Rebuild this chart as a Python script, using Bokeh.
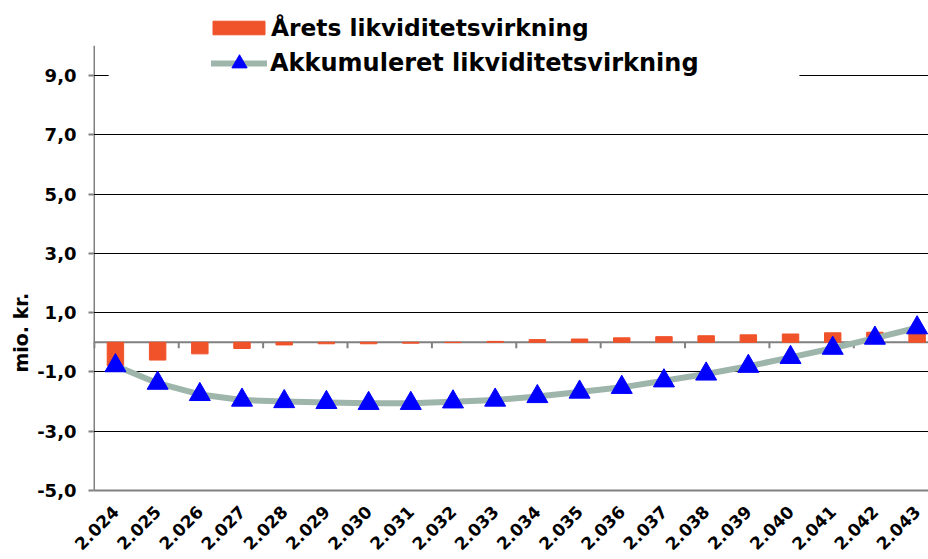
import math
from bokeh.plotting import figure
from bokeh.models import (FixedTicker, Range1d, Legend, LegendItem, BoxAnnotation,
                          Span, Title, ColumnDataSource)
from bokeh.embed import file_html
from bokeh.resources import INLINE

# ---- data ----
years = ["2.024", "2.025", "2.026", "2.027", "2.028", "2.029", "2.030", "2.031",
         "2.032", "2.033", "2.034", "2.035", "2.036", "2.037", "2.038", "2.039",
         "2.040", "2.041", "2.042", "2.043"]
annual = [-0.79, -0.60, -0.39, -0.21, -0.09, -0.05, -0.05, -0.03, -0.01, 0.03,
          0.09, 0.11, 0.15, 0.19, 0.22, 0.25, 0.28, 0.32, 0.34, 0.35]
cumulative = [-0.79, -1.38, -1.76, -1.95, -2.00, -2.03, -2.06, -2.06, -2.01, -1.95,
              -1.83, -1.68, -1.52, -1.30, -1.07, -0.81, -0.51, -0.20, 0.14, 0.49]
y_ticks = [-5, -3, -1, 1, 3, 5, 7, 9]
y_labels = ["-5,0", "-3,0", "-1,0", "1,0", "3,0", "5,0", "7,0", "9,0"]
y_axis_min, y_axis_max = -5, 10
bar_label = "Årets likviditetsvirkning"
line_label = "Akkumuleret likviditetsvirkning"
y_title = "mio. kr."

FONT = "DejaVu Sans"
GRAY = "#808080"
X_START, X_END = -0.52, 19.27

xs = list(range(len(years)))
src = ColumnDataSource(dict(x=xs, annual=annual, cum=cumulative))

# frame runs to the top of the canvas so the legend (drawn inside the frame) is not clipped
p = figure(width=928, height=559, x_range=Range1d(X_START, X_END), y_range=Range1d(-5, 11.53),
           output_backend="svg", toolbar_location=None,
           min_border_left=93, min_border_right=0, min_border_top=0, min_border_bottom=69)
p.outline_line_color = None
p.background_fill_color = "white"

# grid
p.xgrid.visible = False
p.ygrid.ticker = FixedTicker(ticks=[t for t in y_ticks if t != -5])
p.ygrid.grid_line_color = "black"
p.ygrid.grid_line_width = 1

# y axis (line drawn separately so that it stops at the axis maximum)
p.yaxis.ticker = FixedTicker(ticks=y_ticks)
p.yaxis.major_label_overrides = {t: l for t, l in zip(y_ticks, y_labels)}
p.yaxis.major_label_text_font = FONT
p.yaxis.major_label_text_font_style = "bold"
p.yaxis.major_label_text_font_size = "18px"
p.yaxis.major_label_text_color = "black"
p.yaxis.axis_line_color = None
p.yaxis.major_tick_line_color = GRAY
p.yaxis.major_tick_line_width = 2
p.yaxis.major_tick_out = 5
p.yaxis.major_tick_in = 0
p.yaxis.minor_tick_line_color = None
p.yaxis.major_label_standoff = 12
p.segment(x0=[X_START + 0.012], y0=[y_axis_min], x1=[X_START + 0.012], y1=[y_axis_max],
          line_color=GRAY, line_width=2, level="underlay")

# x axis
p.xaxis.ticker = FixedTicker(ticks=xs)
p.xaxis.major_label_overrides = {i: y for i, y in zip(xs, years)}
p.xaxis.major_label_orientation = math.pi / 4
p.xaxis.major_label_text_font = FONT
p.xaxis.major_label_text_font_style = "bold"
p.xaxis.major_label_text_font_size = "17px"
p.xaxis.major_label_text_color = "black"
p.xaxis.axis_line_color = GRAY
p.xaxis.axis_line_width = 2
p.xaxis.major_tick_line_color = None
p.xaxis.major_tick_out = 0
p.xaxis.major_tick_in = 0
p.xaxis.minor_tick_line_color = None
p.xaxis.major_label_standoff = 18

# zero axis line with tick marks every second category boundary
p.add_layout(Span(location=0, dimension="width", line_color=GRAY, line_width=2, level="underlay"))
tick_x = [i - 0.5 for i in range(0, len(years), 2)]
p.segment(x0=tick_x, y0=[0] * len(tick_x), x1=tick_x, y1=[-0.2] * len(tick_x),
          line_color=GRAY, line_width=2, level="underlay")

# glyphs
bar_r = p.vbar(x="x", top="annual", bottom=0, width=0.39, source=src,
               fill_color="#F0522A", line_color="#F0522A")
line_r = p.line(x="x", y="cum", source=src, line_color="#9DB5AA", line_width=6,
                line_join="round", line_cap="round")
mark_r = p.scatter(x="x", y="cum", source=src, marker="triangle", size=21,
                   fill_color="#0000FF", line_color="#0000FF")

# white area behind legend hiding the top gridline
p.add_layout(BoxAnnotation(left=-0.16, right=16.21, bottom=8.6, top=9.4,
                           fill_color="white", fill_alpha=1, line_alpha=0))

common = dict(padding=0, margin=0, spacing=0, border_line_alpha=0,
              background_fill_color="white", background_fill_alpha=1,
              label_text_font=FONT, label_text_font_style="bold",
              label_text_color="black")
leg1 = Legend(items=[LegendItem(label=bar_label, renderers=[bar_r])],
              location=(113, 449), glyph_width=65, glyph_height=17, label_height=17,
              label_standoff=0, label_text_font_size="23.3px", **common)
leg2 = Legend(items=[LegendItem(label=line_label, renderers=[line_r, mark_r])],
              location=(118, 408), glyph_width=56, glyph_height=38, label_height=17,
              label_standoff=3, label_text_font_size="24px", **common)
p.add_layout(leg1)
p.add_layout(leg2)

# y-axis title (left side panel, placed lower along the axis)
p.add_layout(Title(text=y_title, align="left", offset=118, text_font=FONT,
                   text_font_style="bold", text_font_size="19px", text_color="black",
                   standoff=6), "left")

open("out.html", "w").write(file_html(p, INLINE))
